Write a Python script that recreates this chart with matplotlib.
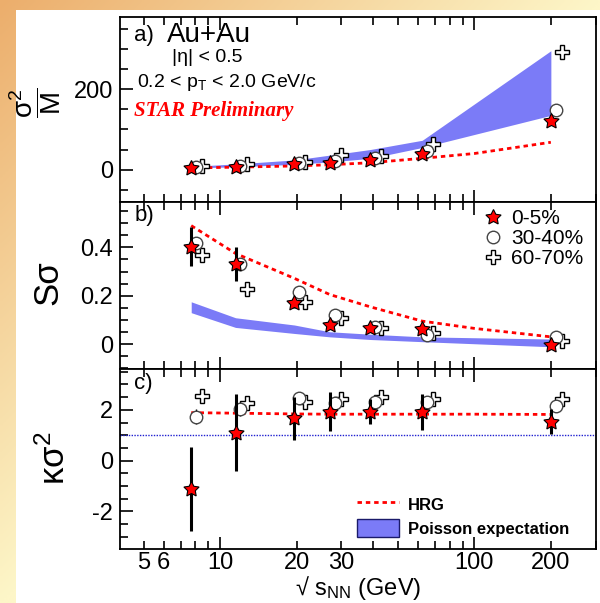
import numpy as np
import matplotlib

matplotlib.use("Agg")
import matplotlib.pyplot as plt
from matplotlib.lines import Line2D
from matplotlib.patches import Patch, Rectangle

plt.rcParams["font.family"] = ["Liberation Sans", "DejaVu Sans"]
plt.rcParams["mathtext.fontset"] = "custom"
plt.rcParams["mathtext.rm"] = "Liberation Sans"
plt.rcParams["mathtext.it"] = "Liberation Sans:italic"
plt.rcParams["mathtext.bf"] = "Liberation Sans:bold"
plt.rcParams["axes.unicode_minus"] = False

# collision energies (GeV)
energies = [7.7, 11.5, 19.6, 27, 39, 62.4, 200]
hrg_energies = [7.7, 11.5, 19.6, 27, 39, 62.4, 100, 200]

# a) sigma^2 / M
a_0_5 = [5, 7, 15, 17, 23, 40, 122]
a_30_40 = [6, 9, 17, 22, 30, 46, 149]
a_60_70 = [9, 15, 19, 37, 35, 64, 292]
a_pois_lo = [4, 7, 13, 19, 28, 55, 135]
a_pois_hi = [8, 14, 24, 36, 50, 73, 296]
a_hrg = [4, 6, 9, 12, 17, 28, 40, 68]

# b) S sigma
b_0_5 = [0.403, 0.331, 0.171, 0.079, 0.065, 0.061, -0.004]
b_0_5_err = [0.08, 0.07, 0.02, 0.015, 0.01, 0.015, 0.01]
b_30_40 = [0.419, 0.331, 0.215, 0.12, 0.07, 0.037, 0.03]
b_60_70 = [0.368, 0.229, 0.175, 0.106, 0.065, 0.044, 0.014]
b_pois_lo = [0.13, 0.069, 0.044, 0.03, 0.019, 0.01, -0.011]
b_pois_hi = [0.175, 0.109, 0.079, 0.051, 0.041, 0.03, 0.021]
b_hrg = [0.49, 0.375, 0.272, 0.205, 0.154, 0.095, 0.065, 0.03]

# c) kappa sigma^2
c_0_5 = [-1.13, 1.10, 1.67, 1.93, 1.93, 1.93, 1.54]
c_0_5_err = [1.65, 1.52, 0.85, 0.76, 0.48, 0.71, 0.5]
c_30_40 = [1.73, 2.02, 2.45, 2.26, 2.32, 2.32, 2.15]
c_30_40_err = [0.3, 0.25, 0.2, 0.15, 0.15, 0.15, 0.15]
c_60_70 = [2.55, 2.28, 2.32, 2.42, 2.52, 2.42, 2.42]
c_hrg = [1.89, 1.87, 1.84, 1.83, 1.83, 1.83, 1.83, 1.82]
c_poisson = 1.0

RED = "#ff0000"
BAND = "#7b7bf7"
STAR = (5, 1, 0)

x = np.array(energies)
x_circ = x * 1.045
x_cross = x * 1.105

fig = plt.figure(figsize=(6, 6.03), dpi=100)

# orange -> pale yellow slide background with white page
bg = fig.add_axes([0, 0, 1, 1], zorder=-10)
gx, gy = np.meshgrid(np.linspace(0, 1, 200), np.linspace(0, 1, 200))
t = np.clip(gx + gy, 0, 1)[..., None]
c0 = np.array([236, 174, 108]) / 255
c1 = np.array([253, 246, 200]) / 255
bg.imshow(c0 * (1 - t) + c1 * t, extent=[0, 1, 0, 1], aspect="auto")
bg.add_patch(Rectangle((16 / 600, 0), 1, 1 - 10 / 603, color="white", lw=0))
bg.set_xlim(0, 1)
bg.set_ylim(0, 1)
bg.axis("off")

L, W = 120 / 600, 476 / 600
ax_a = fig.add_axes([L, 1 - 201.7 / 603, W, 184.7 / 603])
ax_b = fig.add_axes([L, 1 - 369 / 603, W, 167.3 / 603])
ax_c = fig.add_axes([L, 1 - 549 / 603, W, 180 / 603])

minor_x = [5, 6, 7, 8, 9, 20, 30, 40, 50, 60, 70, 80, 90, 200, 300]
minor_lab = ["5", "6", "", "", "", "20", "30", "", "", "", "", "", "", "200", ""]

for ax in (ax_a, ax_b, ax_c):
    ax.set_xscale("log")
    ax.set_xlim(4.04, 301)
    ax.set_xticks([10, 100])
    ax.set_xticks(minor_x, minor=True)
    ax.tick_params(which="both", direction="in", top=True, right=False,
                   labelsize=17, width=1.2, pad=5)
    ax.tick_params(axis="x", which="both", pad=2)
    ax.tick_params(which="major", length=9)
    ax.tick_params(which="minor", length=5.5)
    for s in ax.spines.values():
        s.set_linewidth(1.3)
    if ax is ax_c:
        ax.set_xticklabels(["10", "100"])
        ax.set_xticklabels(minor_lab, minor=True)
    else:
        ax.set_xticklabels([])
        ax.set_xticklabels([], minor=True)

hrg_style = dict(color=RED, lw=2, linestyle=(0, (1.6, 1.4)), zorder=3)
circ_style = dict(marker="o", ms=9, mfc="white", mec="#444444", mew=1.0,
                  ls="none", zorder=4)
cross_style = dict(marker="P", ms=10, mfc="white", mec="black", mew=1.0,
                   ls="none", zorder=4)
star_style = dict(marker=STAR, ms=11.5, mfc=RED, mec="black", mew=0.8,
                  ls="none", zorder=6)

# ---- a) ----
ax_a.fill_between(x, a_pois_lo, a_pois_hi, color=BAND, lw=0, zorder=2)
ax_a.plot(hrg_energies, a_hrg, **hrg_style)
ax_a.plot(x_cross, a_60_70, **cross_style)
ax_a.plot(x_circ, a_30_40, **circ_style)
ax_a.plot(x, a_0_5, **star_style)
ax_a.set_ylim(-80, 380)
ax_a.set_yticks([0, 200])
ax_a.set_yticks(np.arange(-50, 400, 50), minor=True)
ax_a.text(0.03, 0.9, "a)", transform=ax_a.transAxes, fontsize=16, va="center")
ax_a.text(0.098, 0.905, "Au+Au", transform=ax_a.transAxes, fontsize=20,
          va="center")
ax_a.text(0.109, 0.78, "|η| < 0.5", transform=ax_a.transAxes, fontsize=14,
          va="center")
ax_a.text(0.035, 0.645, r"0.2 < p$_{\rm T}$ < 2.0 GeV/c",
          transform=ax_a.transAxes, fontsize=14, va="center")
ax_a.text(0.03, 0.49, "STAR Preliminary", transform=ax_a.transAxes,
          fontsize=15, va="center", color=RED, style="italic",
          weight="bold", family="Liberation Serif")

# ---- b) ----
ax_b.fill_between(x, b_pois_lo, b_pois_hi, color=BAND, lw=0, zorder=2)
ax_b.plot(hrg_energies, b_hrg, **hrg_style)
ax_b.plot(x_cross, b_60_70, **cross_style)
ax_b.plot(x_circ, b_30_40, **circ_style)
ax_b.errorbar(x, b_0_5, yerr=b_0_5_err, fmt="none", ecolor="black",
              elinewidth=2.2, capsize=0, zorder=5)
ax_b.plot(x, b_0_5, **star_style)
ax_b.set_ylim(-0.103, 0.589)
ax_b.set_yticks([0, 0.2, 0.4])
ax_b.set_yticklabels(["0", "0.2", "0.4"])
ax_b.set_yticks(np.arange(-0.1, 0.6, 0.05), minor=True)
ax_b.text(0.03, 0.92, "b)", transform=ax_b.transAxes, fontsize=16, va="center")
ax_b.legend(
    handles=[Line2D([], [], **star_style), Line2D([], [], **circ_style),
             Line2D([], [], **cross_style)],
    labels=["0-5%", "30-40%", "60-70%"],
    loc="upper left", bbox_to_anchor=(0.762, 0.955), frameon=False,
    fontsize=15, handlelength=1.0, handletextpad=0.35, labelspacing=0.05,
    borderpad=0, borderaxespad=0)

# ---- c) ----
ax_c.axhline(c_poisson, color="#2020d0", lw=1, ls=(0, (1, 1)), zorder=2)
ax_c.plot(hrg_energies, c_hrg, **hrg_style)
ax_c.plot(x_cross, c_60_70, **cross_style)
ax_c.errorbar(x_circ, c_30_40, yerr=c_30_40_err, fmt="none", ecolor="black",
              elinewidth=1, capsize=0, zorder=4)
ax_c.plot(x_circ, c_30_40, **circ_style)
ax_c.errorbar(x, c_0_5, yerr=c_0_5_err, fmt="none", ecolor="black",
              elinewidth=2.2, capsize=0, zorder=5)
ax_c.plot(x, c_0_5, **star_style)
ax_c.set_ylim(-3.48, 3.61)
ax_c.set_yticks([-2, 0, 2])
ax_c.set_yticks(np.arange(-3, 3.6, 0.5), minor=True)
ax_c.text(0.03, 0.92, "c)", transform=ax_c.transAxes, fontsize=16, va="center")
ax_c.legend(
    handles=[Line2D([], [], color=RED, lw=2, ls=(0, (1.6, 1.4))),
             Patch(facecolor=BAND, edgecolor="#1a1a6a", lw=1)],
    labels=["HRG", "Poisson expectation"],
    loc="lower left", bbox_to_anchor=(0.498, 0.065), frameon=False,
    prop={"size": 12, "weight": "bold"}, handlelength=2.5, handleheight=1.3,
    handletextpad=0.55, labelspacing=0.35, borderpad=0, borderaxespad=0)
ax_c.set_xlabel(r"√ s$_{\rm NN}$ (GeV)", fontsize=17, labelpad=0)

# y labels
fig.text(35 / 600, 1 - 103 / 603, r"$\mathrm{\dfrac{\sigma^2}{M}}$",
         rotation=90, fontsize=20, ha="center", va="center")
fig.text(48 / 600, 1 - 283 / 603, "Sσ", rotation=90, fontsize=25,
         ha="center", va="center")
fig.text(55 / 600, 1 - 458 / 603, r"$\mathrm{\kappa\sigma^2}$", rotation=90,
         fontsize=25, ha="center", va="center")

fig.savefig("out.png", dpi=100)
